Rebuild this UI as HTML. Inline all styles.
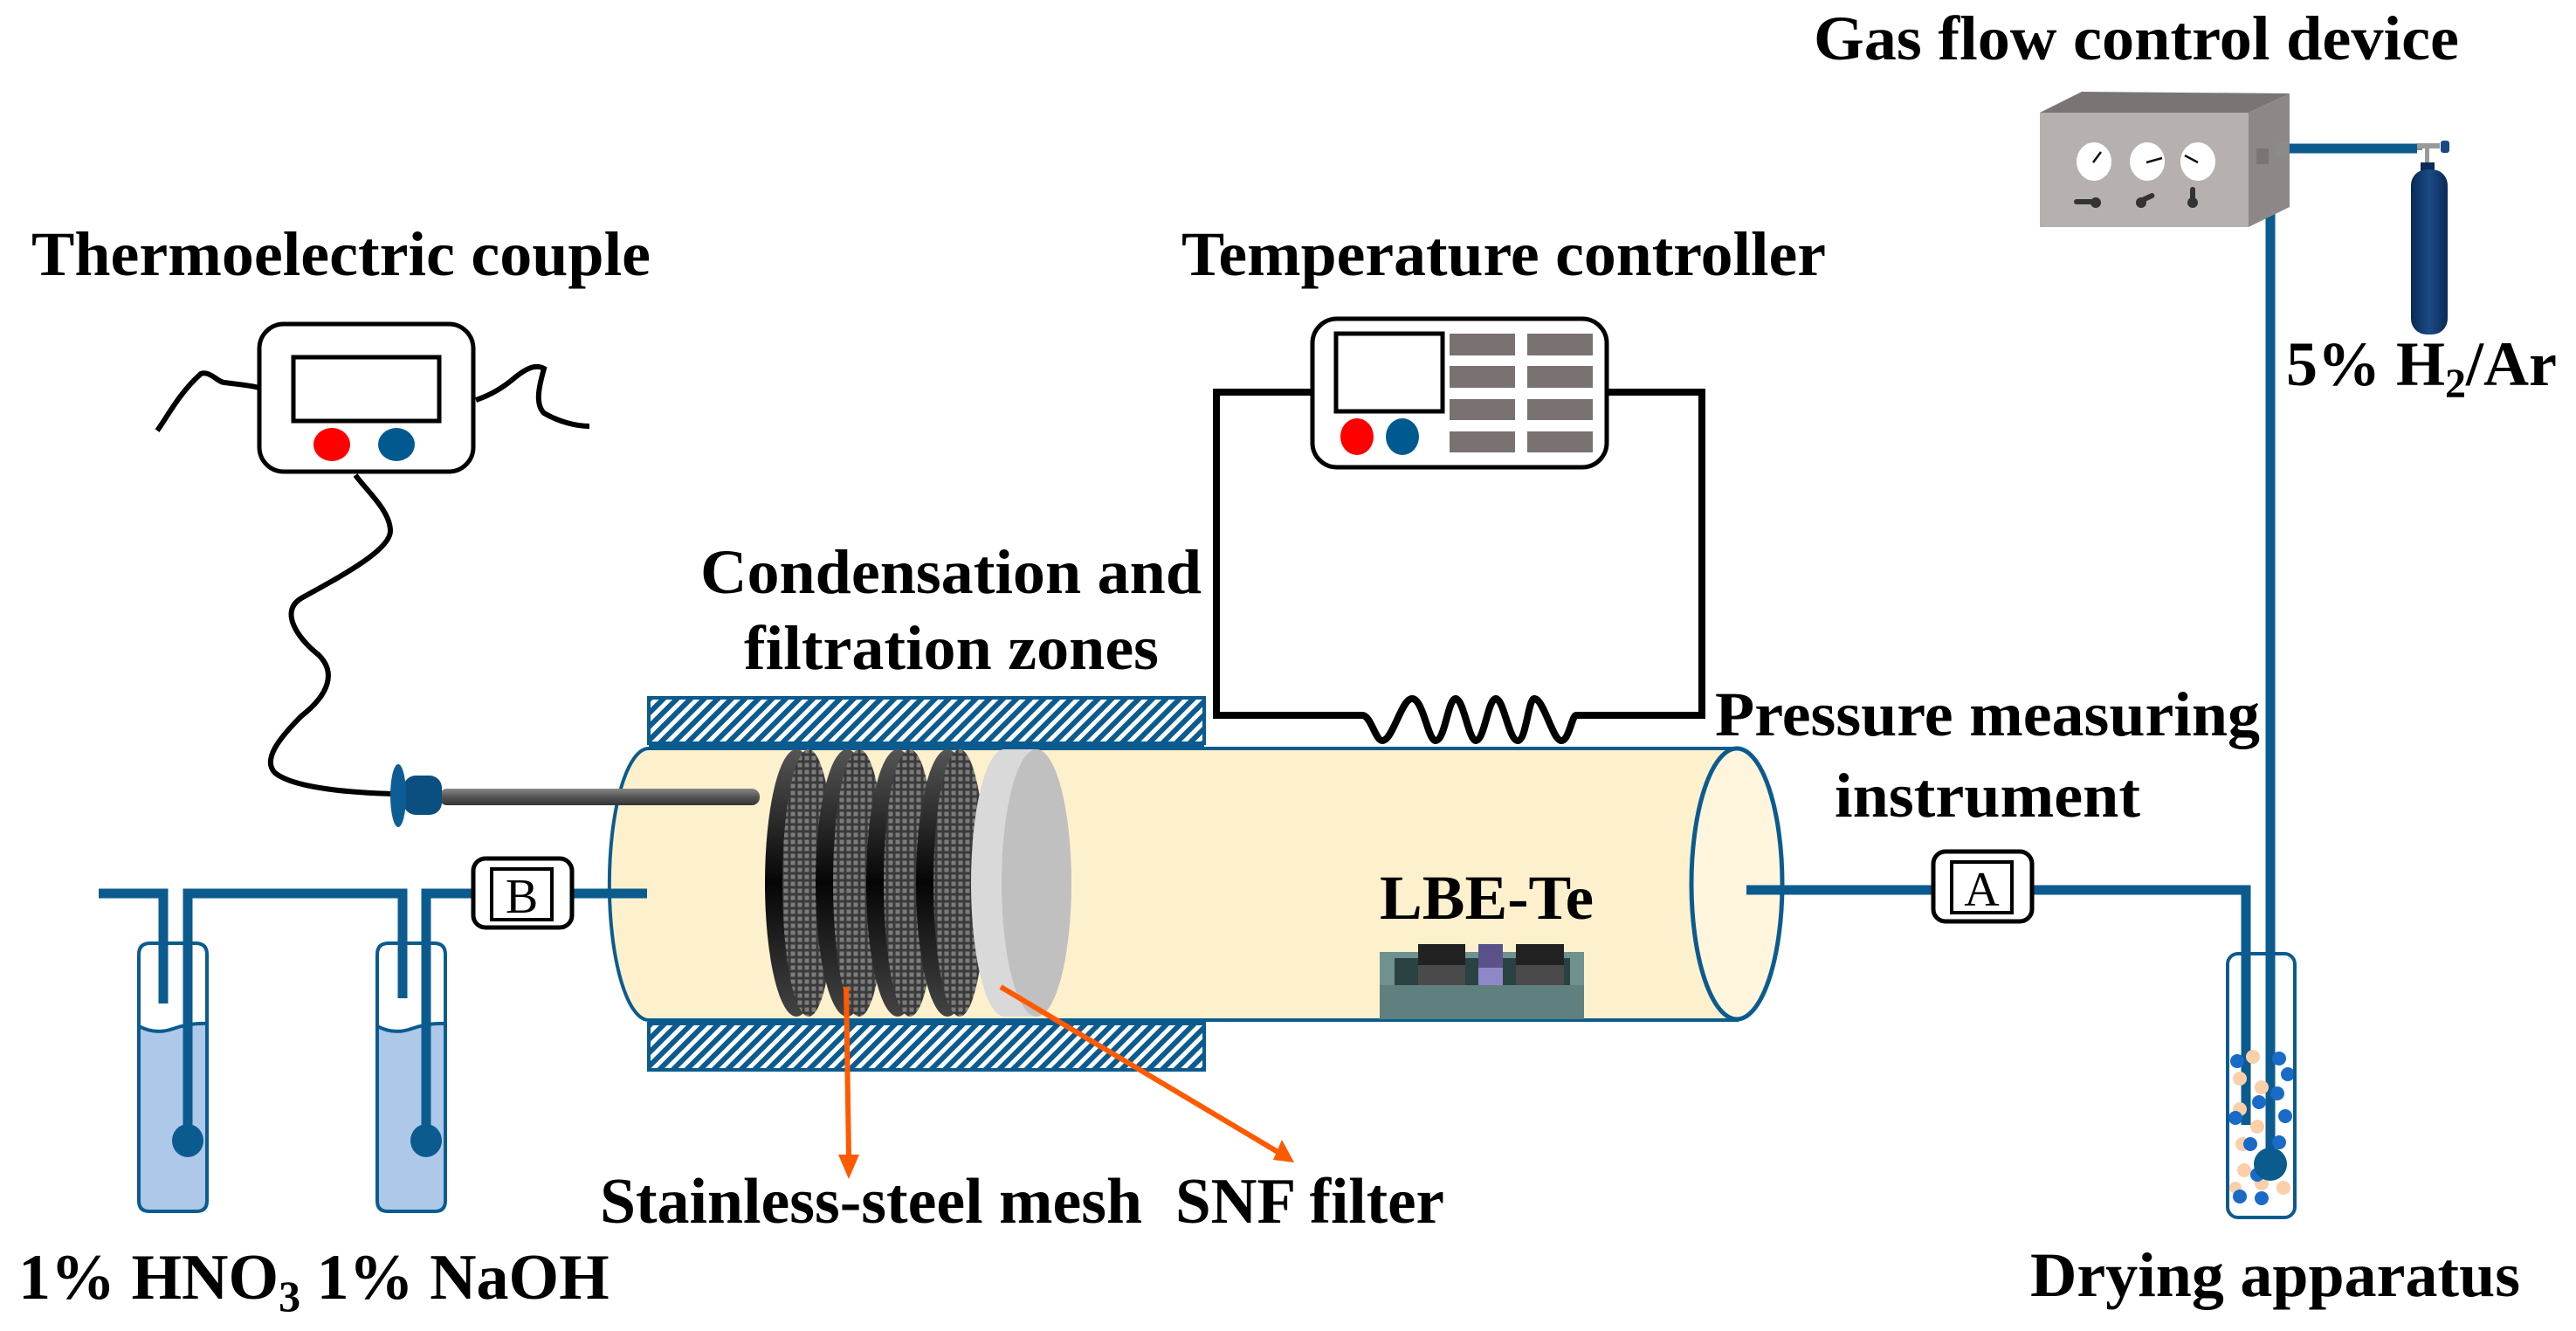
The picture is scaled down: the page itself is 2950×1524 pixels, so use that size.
<!DOCTYPE html>
<html><head><meta charset="utf-8"><style>
html,body{margin:0;padding:0;background:#fff}
svg{display:block}
text{font-family:"Liberation Serif",serif;font-weight:bold;fill:#000}
</style></head><body>
<svg width="2950" height="1524" viewBox="0 0 2950 1524" xmlns="http://www.w3.org/2000/svg">
<defs>
<pattern id="hatch" width="11" height="11" patternUnits="userSpaceOnUse" patternTransform="rotate(45)">
<rect width="11" height="11" fill="#fff"/><rect width="6" height="11" fill="#0b5b8f"/>
</pattern>
<pattern id="grid" width="8" height="8" patternUnits="userSpaceOnUse">
<rect width="8" height="8" fill="#3a3a3a"/><rect x="1.5" y="1.5" width="5" height="5" fill="#7c7c7c"/>
</pattern>
<linearGradient id="rim" x1="0" y1="0" x2="0" y2="1">
<stop offset="0" stop-color="#555"/><stop offset="0.5" stop-color="#050505"/><stop offset="1" stop-color="#444"/>
</linearGradient>
<linearGradient id="rod" x1="0" y1="0" x2="0" y2="1">
<stop offset="0" stop-color="#888"/><stop offset="0.5" stop-color="#555"/><stop offset="1" stop-color="#333"/>
</linearGradient>
<linearGradient id="cyl" x1="0" y1="0" x2="1" y2="0">
<stop offset="0" stop-color="#0b2a55"/><stop offset="0.5" stop-color="#1a4a85"/><stop offset="1" stop-color="#0b2a55"/>
</linearGradient>
</defs>

<!-- Titles -->
<text x="36" y="315" font-size="72" textLength="709" lengthAdjust="spacingAndGlyphs">Thermoelectric couple</text>
<text x="1353" y="315" font-size="72" textLength="738" lengthAdjust="spacingAndGlyphs">Temperature controller</text>
<text x="2077" y="68" font-size="72" textLength="739" lengthAdjust="spacingAndGlyphs">Gas flow control device</text>
<text x="2618" y="441" font-size="72">5% H<tspan font-size="48" dy="14">2</tspan><tspan dy="-14">/Ar</tspan></text>
<text x="802" y="679" font-size="72" textLength="574" lengthAdjust="spacingAndGlyphs">Condensation and</text>
<text x="852" y="766" font-size="72" textLength="475" lengthAdjust="spacingAndGlyphs">filtration zones</text>
<text x="1964" y="842" font-size="72" textLength="624" lengthAdjust="spacingAndGlyphs">Pressure measuring</text>
<text x="2101" y="935" font-size="72" textLength="350" lengthAdjust="spacingAndGlyphs">instrument</text>
<text x="687" y="1400" font-size="74" textLength="621" lengthAdjust="spacingAndGlyphs">Stainless-steel mesh</text>
<text x="1346" y="1400" font-size="74" textLength="308" lengthAdjust="spacingAndGlyphs">SNF filter</text>
<text x="21" y="1487" font-size="74">1% HNO<tspan font-size="50" dy="14">3</tspan><tspan dy="-14"> 1% NaOH</tspan></text>
<text x="2325" y="1484" font-size="72" textLength="561" lengthAdjust="spacingAndGlyphs">Drying apparatus</text>

<!-- Thermocouple device -->
<path d="M180,493 C190,480 205,450 230,428 C240,424 250,438 257,438 C272,440 285,441 297,444" fill="none" stroke="#000" stroke-width="6"/>
<path d="M545,458 C560,453 575,445 590,432 C600,424 612,416 623,422 C618,440 612,462 623,473 C640,483 660,488 675,488" fill="none" stroke="#000" stroke-width="6"/>
<rect x="297" y="371" width="245" height="169" rx="28" fill="#fff" stroke="#000" stroke-width="5"/>
<rect x="336" y="409" width="167" height="73" fill="#fff" stroke="#000" stroke-width="5"/>
<ellipse cx="380" cy="509" rx="21" ry="19" fill="#f00"/>
<ellipse cx="454" cy="509" rx="21" ry="19" fill="#005a90"/>
<path d="M407,544 C420,562 447,585 447,608 C447,630 390,660 345,685 C320,700 340,730 365,750 C385,770 377,795 345,820 C320,845 300,870 315,885 C340,905 420,908 450,909" fill="none" stroke="#000" stroke-width="6"/>

<!-- Temperature controller wiring -->
<path d="M1503,449 H1393 V819 H1560 C1570,819 1575,848 1583,848 C1595,848 1605,800 1617,800 C1630,800 1635,848 1644,848 C1655,848 1658,800 1667,800 C1676,800 1682,848 1690,848 C1700,848 1704,800 1713,800 C1722,800 1728,848 1738,848 C1748,848 1750,800 1757,800 C1768,800 1778,848 1788,848 C1797,848 1800,819 1805,819 H1949 V449 H1840" fill="none" stroke="#000" stroke-width="8"/>
<rect x="1503" y="365" width="337" height="170" rx="28" fill="#fff" stroke="#000" stroke-width="5"/>
<rect x="1530" y="382" width="122" height="89" fill="#fff" stroke="#000" stroke-width="5"/>
<ellipse cx="1554" cy="500" rx="19" ry="21" fill="#f00"/>
<ellipse cx="1606" cy="500" rx="19" ry="21" fill="#005a90"/>
<g fill="#7a7270">
<rect x="1660" y="382" width="75" height="25"/><rect x="1749" y="382" width="75" height="25"/>
<rect x="1660" y="419" width="75" height="25"/><rect x="1749" y="419" width="75" height="25"/>
<rect x="1660" y="457" width="75" height="24"/><rect x="1749" y="457" width="75" height="24"/>
<rect x="1660" y="494" width="75" height="24"/><rect x="1749" y="494" width="75" height="24"/>
</g>

<!-- Hatched heaters -->
<rect x="743" y="799" width="636" height="52" fill="url(#hatch)" stroke="#0b5b8f" stroke-width="4"/>
<rect x="743" y="1172" width="636" height="53" fill="url(#hatch)" stroke="#0b5b8f" stroke-width="4"/>
<line x1="743" y1="853" x2="1379" y2="853" stroke="#0b5b8f" stroke-width="6"/>

<!-- Tube -->
<path d="M743,857 H1989 V1168 H743 A45,155 0 0 1 743,857 Z" fill="#fdf1cd" stroke="#0b5b8f" stroke-width="4"/>
<ellipse cx="1989" cy="1012" rx="52" ry="155" fill="#fff6dd" stroke="#0b5b8f" stroke-width="5"/>

<!-- probe -->
<rect x="503" y="903" width="367" height="19" rx="9" fill="url(#rod)"/>
<rect x="462" y="888" width="44" height="45" rx="14" fill="#0b4f80"/>
<ellipse cx="456" cy="911" rx="9" ry="36" fill="#0d5d95"/>

<text x="1580" y="1052" font-size="72" textLength="245" lengthAdjust="spacingAndGlyphs">LBE-Te</text>

<!-- meshes -->
<g>
<ellipse cx="912" cy="1011" rx="36" ry="153" fill="url(#rim)"/>
<ellipse cx="926" cy="1011" rx="30" ry="153" fill="url(#grid)"/>
<ellipse cx="970" cy="1011" rx="36" ry="153" fill="url(#rim)"/>
<ellipse cx="984" cy="1011" rx="30" ry="153" fill="url(#grid)"/>
<ellipse cx="1028" cy="1011" rx="36" ry="153" fill="url(#rim)"/>
<ellipse cx="1042" cy="1011" rx="30" ry="153" fill="url(#grid)"/>
<ellipse cx="1085" cy="1011" rx="36" ry="153" fill="url(#rim)"/>
<ellipse cx="1099" cy="1011" rx="30" ry="153" fill="url(#grid)"/>
<path d="M1150,858 H1185 V1164 H1150 A38,153 0 0 1 1150,858 Z" fill="#d9d9d9"/>
<ellipse cx="1187" cy="1011" rx="40" ry="153" fill="#c0c0c0"/>
</g>

<!-- Boat -->
<rect x="1580" y="1090" width="234" height="77" fill="#6f9291"/>
<rect x="1580" y="1128" width="234" height="39" fill="#5f807e"/>
<rect x="1597" y="1097" width="201" height="31" fill="#2a4242"/>
<rect x="1624" y="1081" width="54" height="24" fill="#222"/><rect x="1624" y="1105" width="54" height="23" fill="#4a4a4a"/>
<rect x="1693" y="1081" width="28" height="27" fill="#5a5288"/><rect x="1693" y="1108" width="28" height="20" fill="#8f88c8"/>
<rect x="1736" y="1081" width="55" height="24" fill="#222"/><rect x="1736" y="1105" width="55" height="23" fill="#4a4a4a"/>

<!-- Orange arrows -->
<g stroke="#ff5a00" stroke-width="6" fill="#ff5a00">
<line x1="969" y1="1130" x2="972" y2="1325"/>
<line x1="1146" y1="1130" x2="1465" y2="1320"/>
</g>
<polygon points="960,1322 984,1322 972,1350" fill="#ff5a00"/>
<polygon points="1468,1305 1458,1328 1482,1331" fill="#ff5a00"/>

<!-- Bottles -->
<g stroke="#0b5b8f" stroke-width="4">
<path d="M159,1175 Q178,1185 198,1178 T237,1172 V1375 Q237,1387 225,1387 H171 Q159,1387 159,1375 Z" fill="#adc8e8"/>
<path d="M159,1175 V1093 Q159,1080 172,1080 H224 Q237,1080 237,1093 V1172" fill="none"/>
<path d="M432,1175 Q451,1185 471,1178 T510,1172 V1375 Q510,1387 498,1387 H444 Q432,1387 432,1375 Z" fill="#adc8e8"/>
<path d="M432,1175 V1093 Q432,1080 445,1080 H497 Q510,1080 510,1093 V1172" fill="none"/>
</g>
<g fill="none" stroke="#0b5b8f" stroke-width="11">
<path d="M113,1023 H187 V1149"/>
<path d="M215,1295 V1023 H461 V1143"/>
<path d="M488,1295 V1023 H542"/>
<path d="M655,1023 H741"/>
<path d="M2000,1019 H2214"/>
<path d="M2327,1019 H2572 V1288"/>
<path d="M2600,1320 V170 H2768"/>
</g>
<ellipse cx="215" cy="1306" rx="18" ry="19" fill="#0b5b8f"/>
<ellipse cx="488" cy="1306" rx="18" ry="19" fill="#0b5b8f"/>

<!-- B and A boxes -->
<rect x="542" y="983" width="113" height="79" rx="14" fill="#fff" stroke="#000" stroke-width="5"/>
<rect x="563" y="995" width="69" height="58" fill="none" stroke="#000" stroke-width="4"/>
<text x="597.5" y="1045" font-size="56" text-anchor="middle" style="font-weight:normal">B</text>
<rect x="2214" y="975" width="113" height="80" rx="14" fill="#fff" stroke="#000" stroke-width="5"/>
<rect x="2235" y="987" width="69" height="58" fill="none" stroke="#000" stroke-width="4"/>
<text x="2269.5" y="1037" font-size="56" text-anchor="middle" style="font-weight:normal">A</text>

<!-- Drying apparatus -->
<g>
<g fill="#fbcfa8">
<circle cx="2580" cy="1210" r="8"/><circle cx="2565" cy="1235" r="8"/><circle cx="2590" cy="1245" r="8"/><circle cx="2565" cy="1270" r="8"/><circle cx="2585" cy="1290" r="8"/><circle cx="2568" cy="1310" r="8"/><circle cx="2610" cy="1330" r="8"/><circle cx="2570" cy="1340" r="8"/><circle cx="2590" cy="1355" r="8"/><circle cx="2615" cy="1360" r="8"/><circle cx="2560" cy="1360" r="7"/>
</g>
<g fill="#1a6ac8">
<circle cx="2562" cy="1215" r="8"/><circle cx="2610" cy="1212" r="8"/><circle cx="2620" cy="1230" r="8"/><circle cx="2608" cy="1252" r="8"/><circle cx="2587" cy="1262" r="8"/><circle cx="2560" cy="1280" r="8"/><circle cx="2617" cy="1278" r="8"/><circle cx="2577" cy="1310" r="8"/><circle cx="2610" cy="1308" r="8"/><circle cx="2585" cy="1345" r="8"/><circle cx="2565" cy="1370" r="8"/><circle cx="2590" cy="1372" r="8"/>
</g>
<rect x="2551" y="1092" width="77" height="302" rx="12" fill="none" stroke="#0b5b8f" stroke-width="4"/>
<circle cx="2600" cy="1333" r="19" fill="#0b5b8f"/>
</g>

<!-- Gas flow control device -->
<polygon points="2336,129 2384,105 2622,107 2575,129" fill="#7a7574"/>
<polygon points="2575,129 2622,107 2622,237 2575,260" fill="#8d8887"/>
<rect x="2336" y="129" width="239" height="131" fill="#b6b1af"/>
<g fill="#fff"><ellipse cx="2398" cy="185" rx="20" ry="22"/><ellipse cx="2459" cy="185" rx="20" ry="22"/><ellipse cx="2517" cy="185" rx="20" ry="22"/></g>
<g stroke="#111" stroke-width="2.5"><line x1="2397" y1="186" x2="2406" y2="174"/><line x1="2458" y1="186" x2="2476" y2="181"/><line x1="2517" y1="186" x2="2502" y2="178"/></g>
<g fill="#333"><rect x="2375" y="228" width="22" height="6" rx="3"/><circle cx="2400" cy="232" r="6"/><rect x="2448" y="224" width="20" height="6" rx="3" transform="rotate(-25 2458 227)"/><circle cx="2452" cy="232" r="6"/><rect x="2508" y="214" width="6" height="18" rx="3"/><circle cx="2511" cy="232" r="6"/></g>
<rect x="2584" y="170" width="14" height="18" fill="#7a7574"/>
<rect x="2606" y="163" width="14" height="16" fill="#8d8b8a"/>
<rect x="2768" y="167" width="6" height="5" fill="#888"/>
<rect x="2777" y="167" width="5" height="22" fill="#999"/>
<rect x="2768" y="164" width="26" height="6" fill="#999"/>
<rect x="2795" y="161" width="10" height="14" rx="3" fill="#1a4a85"/>
<rect x="2772" y="186" width="16" height="10" fill="#0b2a55"/>
<rect x="2761" y="194" width="42" height="189" rx="18" fill="url(#cyl)"/>
</svg>
</body></html>
